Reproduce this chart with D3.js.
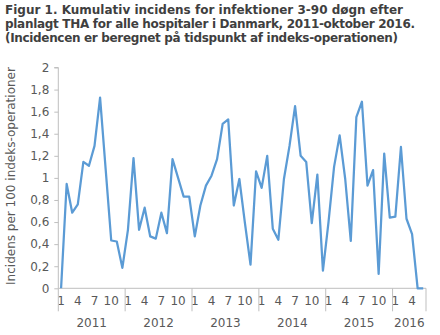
<!DOCTYPE html>
<html>
<head>
<meta charset="utf-8">
<script src="https://cdn.jsdelivr.net/npm/d3@7"></script>
<style>
  html, body { margin: 0; padding: 0; background: #ffffff; }
  svg { display: block; }
</style>
</head>
<body>
<svg id="chart" width="440" height="335"></svg>
<script>
// ---- data ----
const titleLines = [
  "Figur 1. Kumulativ incidens for infektioner 3-90 døgn efter",
  "planlagt THA for alle hospitaler i Danmark, 2011-oktober 2016.",
  "(Incidencen er beregnet på tidspunkt af indeks-operationen)"
];
const titleWidths = [398, 410, 393];
const yAxisLabel = "Incidens per 100 indeks-operationer";
const years = ["2011", "2012", "2013", "2014", "2015", "2016"];
const monthsPerYear = [12, 12, 12, 12, 12, 6];
const monthTickLabels = [1, 4, 7, 10];
const yTicks = [0, 0.2, 0.4, 0.6, 0.8, 1, 1.2, 1.4, 1.6, 1.8, 2];
const values = [
  0, 0.945, 0.685, 0.76, 1.145, 1.11, 1.29, 1.727, 1.08, 0.433, 0.424, 0.185,
  0.53, 1.18, 0.53, 0.73, 0.47, 0.45, 0.685, 0.50, 1.17, 1.00, 0.83, 0.83,
  0.47, 0.75, 0.93, 1.02, 1.17, 1.49, 1.53, 0.75, 0.99, 0.59, 0.215, 1.06,
  0.91, 1.20, 0.54, 0.44, 0.99, 1.29, 1.65, 1.20, 1.145, 0.59, 1.03, 0.16,
  0.60, 1.10, 1.385, 0.99, 0.43, 1.55, 1.69, 0.93, 1.07, 0.13, 1.22, 0.64,
  0.65, 1.28, 0.63, 0.49, 0, 0
];

// ---- build categories ----
const cats = [];
years.forEach((yr, yi) => {
  for (let m = 1; m <= monthsPerYear[yi]; m++) cats.push({ year: yr, month: m });
});
const data = cats.map((c, i) => ({ ...c, i, v: values[i] }));

const svg = d3.select("#chart");
const textColor = "#595959";
const axisColor = "#bfbfbf";
const font = "'DejaVu Sans', Verdana, sans-serif";

// title
svg.append("g").selectAll("text").data(titleLines).join("text")
  .attr("x", 5)
  .attr("y", (d, i) => 13.5 + i * 14)
  .attr("font-family", font)
  .attr("font-weight", "bold")
  .attr("font-size", 12)
  .attr("fill", "#3f3f3f")
  .attr("textLength", (d, i) => titleWidths[i])
  .attr("lengthAdjust", "spacing")
  .text(d => d);

const mLeft = 58.3, mRight = 426, mTop = 67.5, mBottom = 288.3;

const x = d3.scaleBand().domain(d3.range(cats.length)).range([mLeft, mRight]).padding(0);
const y = d3.scaleLinear().domain([0, 2]).range([mBottom, mTop]);
const cx = i => x(i) + x.bandwidth() / 2;

// y axis
const yAxis = d3.axisLeft(y).tickValues(yTicks).tickSize(4).tickPadding(5)
  .tickFormat(d => String(d).replace(".", ","));
const gy = svg.append("g").attr("transform", `translate(${mLeft},0)`).call(yAxis);
gy.select(".domain").attr("stroke", axisColor).attr("d", `M-4,${mTop}H0V${mBottom}`);
gy.selectAll(".tick line").attr("stroke", axisColor);
gy.selectAll(".tick text").attr("fill", textColor).attr("font-family", font).attr("font-size", 12);

// y label
svg.append("text")
  .attr("transform", `translate(15,176) rotate(-90)`)
  .attr("text-anchor", "middle")
  .attr("font-family", font)
  .attr("font-size", 12)
  .attr("fill", textColor)
  .text(yAxisLabel);

// x axis (months)
const monthIdx = data.filter(d => monthTickLabels.includes(d.month)).map(d => d.i);
const xAxis = d3.axisBottom(x).tickValues(monthIdx).tickSize(0).tickPadding(8)
  .tickFormat(i => cats[i].month);
const gx = svg.append("g").attr("transform", `translate(0,${mBottom})`).call(xAxis);
gx.select(".domain").attr("stroke", axisColor).attr("d", `M${mLeft},0H${mRight}`);
gx.selectAll(".tick text").attr("fill", textColor).attr("font-family", font).attr("font-size", 12);

// year separators and labels
let start = 0;
const yearInfo = years.map((yr, yi) => {
  const s = start; start += monthsPerYear[yi];
  return { yr, s, e: start };
});
const xEdge = i => i >= cats.length ? mRight : x(i);
svg.append("g").selectAll("line")
  .data([...yearInfo.map(d => d.s), cats.length]).join("line")
  .attr("x1", d => xEdge(d)).attr("x2", d => xEdge(d))
  .attr("y1", mBottom).attr("y2", mBottom + 23)
  .attr("stroke", axisColor).attr("stroke-width", 1);
svg.append("g").selectAll("text").data(yearInfo).join("text")
  .attr("x", d => (xEdge(d.s) + xEdge(d.e)) / 2)
  .attr("y", mBottom + 39)
  .attr("text-anchor", "middle")
  .attr("font-family", font)
  .attr("font-size", 12)
  .attr("fill", textColor)
  .text(d => d.yr);

// line
const line = d3.line().x(d => cx(d.i)).y(d => y(d.v));
svg.append("path").datum(data)
  .attr("d", line)
  .attr("fill", "none")
  .attr("stroke", "#5b9bd5")
  .attr("stroke-width", 2.25)
  .attr("stroke-linejoin", "round");
</script>
</body>
</html>
